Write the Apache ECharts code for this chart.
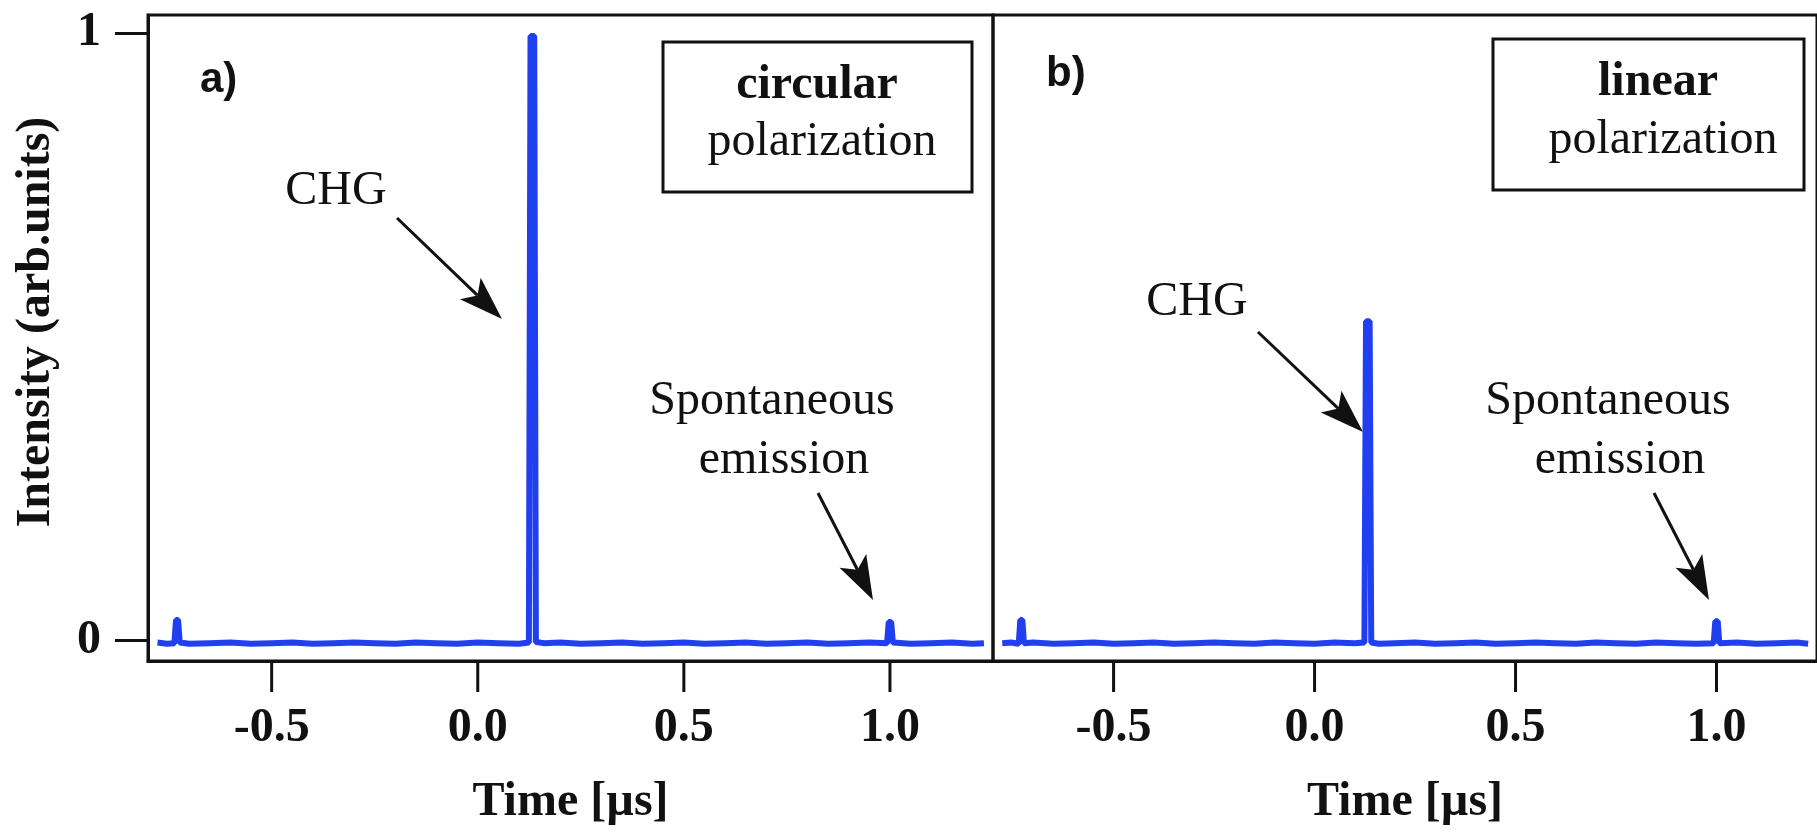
<!DOCTYPE html>
<html>
<head>
<meta charset="utf-8">
<style>
html,body{margin:0;padding:0;background:#fff;}
#chart{width:1817px;height:832px;}
</style>
<script src="https://cdn.jsdelivr.net/npm/echarts@6/dist/echarts.min.js"></script>
</head>
<body>
<div id="chart"></div>
<script>
// ---------------- data ----------------
const timeUs = [
  -0.777, -0.755, -0.736, -0.732, -0.727, -0.723, -0.70, -0.65, -0.60, -0.55,
  -0.50, -0.45, -0.40, -0.35, -0.30, -0.25, -0.20, -0.15, -0.10, -0.05,
  0.00, 0.05, 0.10, 0.124, 0.128, 0.137, 0.141, 0.16, 0.20, 0.25,
  0.30, 0.35, 0.40, 0.45, 0.50, 0.55, 0.60, 0.65, 0.70, 0.75,
  0.80, 0.85, 0.90, 0.95, 0.993, 0.997, 1.003, 1.007, 1.05, 1.10,
  1.15, 1.20, 1.228
];
const intensityCircular = [
  -0.004, -0.006, -0.005, 0.033, 0.033, -0.004, -0.006, -0.005, -0.004, -0.006,
  -0.005, -0.004, -0.006, -0.005, -0.004, -0.005, -0.006, -0.004, -0.005, -0.006,
  -0.004, -0.005, -0.006, -0.004, 0.995, 0.995, -0.003, -0.005, -0.004, -0.006,
  -0.005, -0.004, -0.006, -0.005, -0.004, -0.006, -0.005, -0.004, -0.006, -0.005,
  -0.004, -0.006, -0.005, -0.004, -0.005, 0.030, 0.030, -0.004, -0.006, -0.005,
  -0.004, -0.006, -0.005
];
const intensityLinear = [
  -0.005, -0.004, -0.006, 0.033, 0.033, -0.005, -0.004, -0.006, -0.005, -0.004,
  -0.006, -0.005, -0.004, -0.006, -0.005, -0.004, -0.005, -0.006, -0.004, -0.005,
  -0.006, -0.004, -0.005, -0.004, 0.525, 0.525, -0.004, -0.006, -0.005, -0.004,
  -0.006, -0.005, -0.004, -0.006, -0.005, -0.004, -0.005, -0.006, -0.004, -0.005,
  -0.006, -0.004, -0.005, -0.006, -0.005, 0.031, 0.031, -0.005, -0.004, -0.006,
  -0.005, -0.004, -0.006
];
const xTickValues = [-0.5, 0.0, 0.5, 1.0];
const yTickValues = [0, 1];
const panelLabels = ['a)', 'b)'];
const polarizationKinds = ['circular', 'linear'];
const xAxisTitle = 'Time [\u00b5s]';
const yAxisTitle = 'Intensity (arb.units)';

// ---------------- styling ----------------
const SERIF = '"Liberation Serif", "Times New Roman", serif';
const SANS = '"Liberation Sans Narrow", "Liberation Sans", Arial, sans-serif';
const BLUE = '#1f3ff0';
const INK = '#111';
const X_TICK_LEN = 31;

function zip(xs, ys) {
  const n = Math.min(xs.length, ys.length);
  const out = [];
  for (let i = 0; i < n; i++) out.push([xs[i], ys[i]]);
  return out;
}

const X_MIN = -0.8, X_MAX = 1.25, Y_MIN = -0.0344, Y_MAX = 1.0295;

function makeXAxis(idx) {
  return {
    type: 'value', gridIndex: idx, min: X_MIN, max: X_MAX, position: 'bottom',
    axisLine: { show: true, onZero: false, lineStyle: { color: INK, width: 3 } },
    splitLine: { show: false },
    axisTick: { show: false },
    axisLabel: {
      show: true, customValues: xTickValues, margin: 44,
      formatter: v => Number(v).toFixed(1),
      fontFamily: SERIF, fontSize: 48, fontWeight: 'bold', color: INK
    },
    name: xAxisTitle, nameLocation: 'middle', nameGap: 118,
    nameTextStyle: { fontFamily: SERIF, fontSize: 48, fontWeight: 'bold', color: INK }
  };
}

const yAxes = [
  {
    type: 'value', gridIndex: 0, min: Y_MIN, max: Y_MAX, position: 'left',
    axisLine: { show: true, onZero: false, lineStyle: { color: INK, width: 3 } },
    splitLine: { show: false },
    axisTick: { show: true, inside: false, customValues: yTickValues, length: 33, lineStyle: { color: INK, width: 3 } },
    axisLabel: {
      show: true, customValues: yTickValues, margin: 47,
      formatter: v => String(Math.round(v)),
      fontFamily: SERIF, fontSize: 48, fontWeight: 'bold', color: INK
    }
  },
  {
    type: 'value', gridIndex: 1, min: Y_MIN, max: Y_MAX, position: 'left',
    axisLine: { show: false, onZero: false }, axisTick: { show: false },
    axisLabel: { show: false }, splitLine: { show: false }
  }
];

// arrows (pixel annotations)
function arrow(x1, y1, x2, y2) {
  const dx = x2 - x1, dy = y2 - y1;
  const len = Math.sqrt(dx * dx + dy * dy);
  const ux = dx / len, uy = dy / len;
  const nx = -uy, ny = ux;
  const L = 44, W = 15, notch = 10;
  const bx = x2 - ux * L, by = y2 - uy * L;
  const mx = x2 - ux * (L - notch), my = y2 - uy * (L - notch);
  return [
    { type: 'line', shape: { x1: x1, y1: y1, x2: mx, y2: my }, style: { stroke: INK, lineWidth: 3 } },
    { type: 'polygon', shape: { points: [[x2, y2], [bx + nx * W, by + ny * W], [mx, my], [bx - nx * W, by - ny * W]] }, style: { fill: INK } }
  ];
}

function txt(x, y, text, opts) {
  opts = opts || {};
  return {
    type: 'text', x: x, y: y, rotation: opts.rotation || 0,
    style: {
      text: text, fill: INK,
      fontFamily: opts.family || SERIF, fontSize: opts.size || 48,
      fontWeight: opts.weight || 'normal',
      align: opts.align || 'center', verticalAlign: 'middle'
    }
  };
}

const graphics = [
  { type: 'rect', shape: { x: 663, y: 42, width: 309, height: 150 }, style: { fill: 'rgba(0,0,0,0)', stroke: INK, lineWidth: 3 } },
  { type: 'rect', shape: { x: 1493, y: 39, width: 311, height: 151 }, style: { fill: 'rgba(0,0,0,0)', stroke: INK, lineWidth: 3 } },
  txt(817, 86, polarizationKinds[0], { weight: 'bold' }),
  txt(822, 142, 'polarization'),
  txt(1658, 83, polarizationKinds[1], { weight: 'bold' }),
  txt(1663, 140, 'polarization'),
  txt(200, 80, panelLabels[0], { family: SANS, size: 42, weight: 'bold', align: 'left' }),
  txt(1046, 74, panelLabels[1], { family: SANS, size: 42, weight: 'bold', align: 'left' }),
  txt(336, 191, 'CHG'),
  txt(1197, 302, 'CHG'),
  txt(772, 401, 'Spontaneous'),
  txt(784, 460, 'emission'),
  txt(1608, 401, 'Spontaneous'),
  txt(1620, 460, 'emission'),
  txt(37, 322, yAxisTitle, { weight: 'bold', rotation: Math.PI / 2 })
].concat(
  arrow(397, 218, 502, 319),
  arrow(818, 493, 873, 600),
  arrow(1258, 332, 1363, 432),
  arrow(1654, 493, 1709, 600)
);

const option = {
  animation: false,
  backgroundColor: '#ffffff',
  grid: [
    { left: 148, top: 15, width: 845, height: 649, show: true, borderColor: INK, borderWidth: 3, backgroundColor: 'rgba(0,0,0,0)' },
    { left: 993, top: 15, width: 846, height: 649, show: true, borderColor: INK, borderWidth: 3, backgroundColor: 'rgba(0,0,0,0)' }
  ],
  xAxis: [makeXAxis(0), makeXAxis(1)],
  yAxis: yAxes,
  series: [
    {
      name: 'circular', type: 'line', xAxisIndex: 0, yAxisIndex: 0,
      data: zip(timeUs, intensityCircular), showSymbol: false, symbol: 'none',
      lineStyle: { color: BLUE, width: 6, join: 'bevel' }, itemStyle: { color: BLUE }, z: 3
    },
    {
      name: 'linear', type: 'line', xAxisIndex: 1, yAxisIndex: 1,
      data: zip(timeUs, intensityLinear), showSymbol: false, symbol: 'none',
      lineStyle: { color: BLUE, width: 6, join: 'bevel' }, itemStyle: { color: BLUE }, z: 3
    }
  ]
};

const chart = echarts.init(document.getElementById('chart'), null, { renderer: 'canvas' });
chart.setOption(option);

// x-axis ticks placed through the axes' own scales
const tickGraphics = [];
[0, 1].forEach(function (gi) {
  xTickValues.forEach(function (v) {
    const p = chart.convertToPixel({ xAxisIndex: gi, yAxisIndex: gi }, [v, Y_MIN]);
    tickGraphics.push({
      type: 'line', z: 10,
      shape: { x1: p[0], y1: p[1], x2: p[0], y2: p[1] + X_TICK_LEN },
      style: { stroke: INK, lineWidth: 3 }
    });
  });
});
chart.setOption({ graphic: { elements: graphics.concat(tickGraphics) } });
</script>
</body>
</html>
